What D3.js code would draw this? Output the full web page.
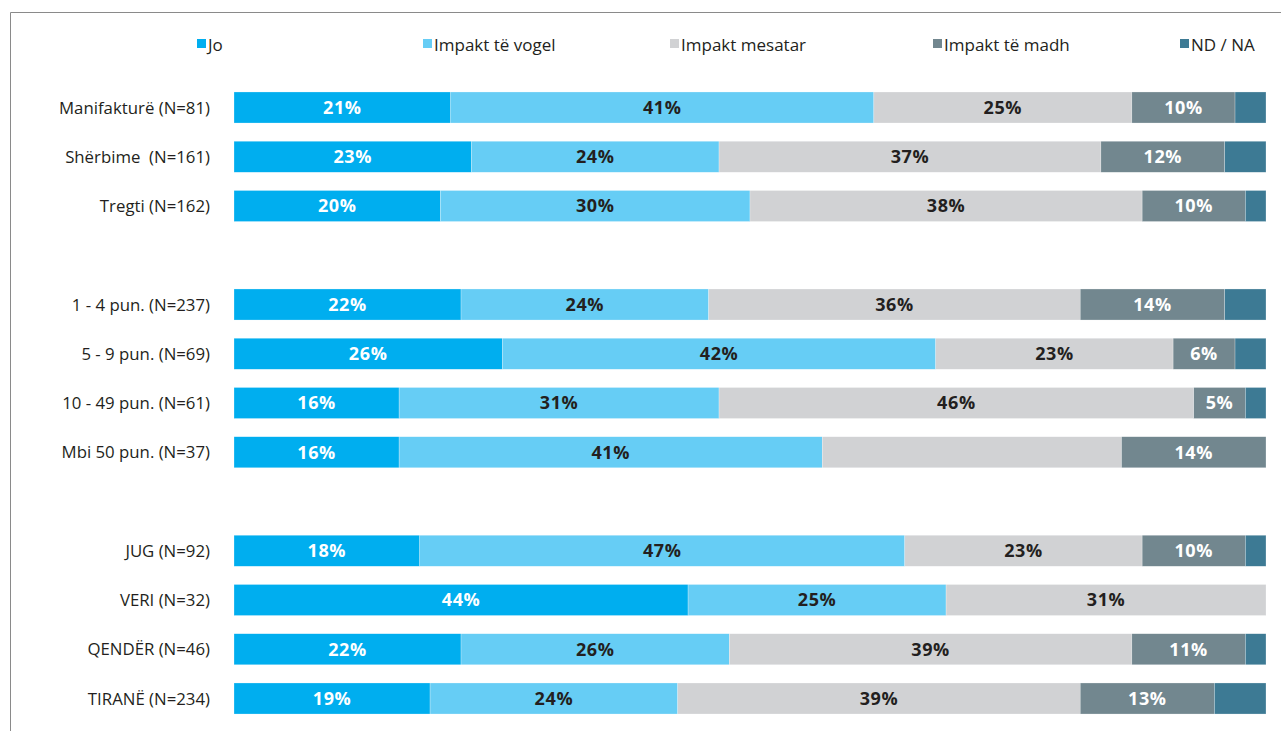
<!DOCTYPE html>
<html>
<head>
<meta charset="utf-8">
<script src="https://cdn.jsdelivr.net/npm/d3@7"></script>
<style>
  html, body { margin: 0; padding: 0; background: #fff; }
  svg { display: block; }
  text { font-family: "Open Sans", "Noto Sans", sans-serif; }
</style>
</head>
<body>
<svg id="chart" width="1281" height="731"></svg>
<script>
// Row labels, top to bottom (null marks an empty slot between groups)
const categories = [
  "Manifakturë (N=81)", "Shërbime  (N=161)", "Tregti (N=162)",
  null,
  "1 - 4 pun. (N=237)", "5 - 9 pun. (N=69)", "10 - 49 pun. (N=61)", "Mbi 50 pun. (N=37)",
  null,
  "JUG (N=92)", "VERI (N=32)", "QENDËR (N=46)", "TIRANË (N=234)"
];

const seriesNames = ["Jo", "Impakt të vogel", "Impakt mesatar", "Impakt të madh", "ND / NA"];

// Shares in percent per row (null for empty slots)
const jo      = [21, 23, 20, null, 22, 26, 16, 16, null, 18, 44, 22, 19];
const vogel   = [41, 24, 30, null, 24, 42, 31, 41, null, 47, 25, 26, 24];
const mesatar = [25, 37, 38, null, 36, 23, 46, 29, null, 23, 31, 39, 39];
const madh    = [10, 12, 10, null, 14,  6,  5, 14, null, 10,  0, 11, 13];
const ndna    = [ 3,  4,  2, null,  4,  3,  2,  0, null,  2,  0,  2,  5];

// Shares shown without a value label: [row, series]
const unlabeled = [[7, 2]];
// Series whose segments carry value labels
const labelledSeries = [0, 1, 2, 3];

const colors = ["#00AEEF", "#66CDF5", "#D1D2D4", "#72878F", "#3D7A94"];
const labelColors = ["#ffffff", "#231f20", "#231f20", "#ffffff", "#ffffff"];

const seriesValues = [jo, vogel, mesatar, madh, ndna];

const svg = d3.select("#chart");

// frame lines
svg.append("line").attr("x1", 10.5).attr("x2", 1281).attr("y1", 12.5).attr("y2", 12.5)
  .attr("stroke", "#8a8a8a").attr("stroke-width", 1);
svg.append("line").attr("x1", 10.5).attr("x2", 10.5).attr("y1", 12.5).attr("y2", 731)
  .attr("stroke", "#8a8a8a").attr("stroke-width", 1);

const slotIds = categories.map((c, i) => "slot" + i);

const x = d3.scaleLinear().domain([0, 100]).range([234, 1266]);
const y = d3.scaleBand().domain(slotIds).range([82.875, 723.125])
  .paddingInner(0.37).paddingOuter(0.185);

// stacked rows
const rows = categories.map((c, i) => {
  if (c === null) return null;
  let acc = 0;
  const segs = seriesValues.map((vals, s) => {
    const v = vals[i];
    const seg = { row: i, s, x0: acc, x1: acc + v, v };
    acc += v;
    return seg;
  });
  return { i, label: c, segs };
}).filter(d => d);

const rowG = svg.selectAll("g.row").data(rows).join("g")
  .attr("class", "row")
  .attr("transform", d => `translate(0,${y(slotIds[d.i])})`);

rowG.selectAll("rect").data(d => d.segs.filter(s => s.v > 0)).join("rect")
  .attr("x", d => x(d.x0))
  .attr("width", d => x(d.x1) - x(d.x0))
  .attr("y", 0)
  .attr("height", y.bandwidth())
  .attr("fill", d => colors[d.s])
  .attr("stroke", "#ffffff")
  .attr("stroke-width", 0.5)
  .attr("stroke-opacity", 0.5);

const isUnlabeled = d => unlabeled.some(([r, s]) => r === d.row && s === d.s);

rowG.selectAll("text.val")
  .data(d => d.segs.filter(s => s.v > 0 && labelledSeries.includes(s.s) && !isUnlabeled(s)))
  .join("text")
  .attr("class", "val")
  .attr("x", d => (x(d.x0) + x(d.x1)) / 2)
  .attr("y", y.bandwidth() / 2)
  .attr("dy", "0.36em")
  .attr("text-anchor", "middle")
  .attr("font-size", 18)
  .attr("font-weight", 700)
  .attr("letter-spacing", 0.6)
  .attr("fill", d => labelColors[d.s])
  .text(d => d.v + "%");

// row labels
rowG.append("text")
  .attr("x", 210)
  .attr("y", y.bandwidth() / 2)
  .attr("dy", "0.36em")
  .attr("text-anchor", "end")
  .attr("font-size", 16.8)
  .attr("fill", "#231f20")
  .style("white-space", "pre")
  .text(d => d.label);

// legend
const legendX = [197, 423, 670, 933, 1180];
const leg = svg.selectAll("g.leg").data(seriesNames).join("g")
  .attr("class", "leg")
  .attr("transform", (d, i) => `translate(${legendX[i]},0)`);
leg.append("rect").attr("x", 0).attr("y", 39).attr("width", 9).attr("height", 9)
  .attr("fill", (d, i) => colors[i]);
leg.append("text").attr("x", 11).attr("y", 51)
  .attr("font-size", 17).attr("fill", "#231f20")
  .text(d => d);
</script>
</body>
</html>
